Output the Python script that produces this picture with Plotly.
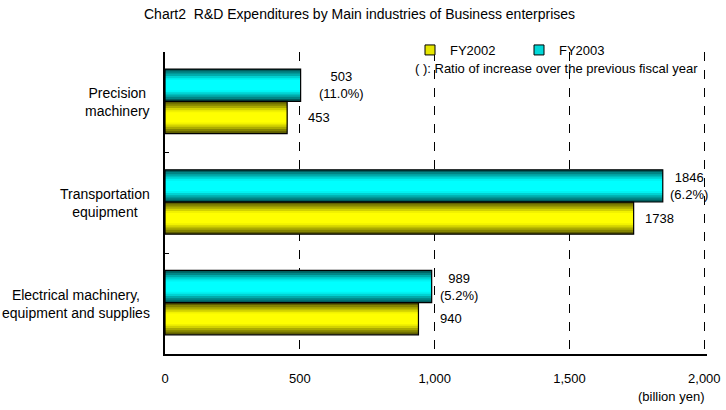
import plotly.graph_objects as go

# ---- data ----
categories = ["Precision<br>machinery", "Transportation<br>equipment",
              "Electrical machinery,<br>equipment and supplies"]
fy2002 = [453, 1738, 940]
fy2003 = [503, 1846, 989]
ratio2003 = ["11.0%", "6.2%", "5.2%"]
x_ticks = [0, 500, 1000, 1500, 2000]
series_names = ["FY2002", "FY2003"]

# ---- style ----
FONT = "Liberation Sans"
pos = list(range(len(categories)))
BAR_W = 0.32
OFF_2003 = -0.33
OFF_2002 = -0.01
X_MAX = 2010
PLOT_W = 542
# gradient layers: (fraction of bar thickness, colour), outer to inner
yellow_layers = [(1.0, "#5e5e00"), (0.86, "#858500"), (0.72, "#abab00"),
                 (0.58, "#d2d200"), (0.44, "#f2f200"), (0.32, "#ffff00")]
cyan_layers = [(1.0, "#005e5e"), (0.86, "#008585"), (0.72, "#00abab"),
               (0.58, "#00d2d2"), (0.44, "#00f2f2"), (0.32, "#00ffff")]
# label nudges in px (manual placement like the original)
shift_2003 = [16, 5, 6]
shift_2002 = [19, 9, 20]

fig = go.Figure()


def add_bar(values, base_off, layers):
    for i, (f, col) in enumerate(layers):
        fig.add_trace(go.Bar(
            x=values, y=pos, orientation="h",
            width=BAR_W * f, offset=base_off + BAR_W * (1 - f) / 2,
            marker=dict(color=col, line=dict(width=0)),
            showlegend=False, hoverinfo="x"))


add_bar(fy2003, OFF_2003, cyan_layers)
add_bar(fy2002, OFF_2002, yellow_layers)

# outer outline on top
for values, off in ((fy2003, OFF_2003), (fy2002, OFF_2002)):
    fig.add_trace(go.Bar(
        x=values, y=pos, orientation="h", width=BAR_W, offset=off,
        marker=dict(color="rgba(0,0,0,0)", line=dict(color="black", width=1.2)),
        showlegend=False, hoverinfo="skip"))

# legend entries
for name, col in zip(series_names, ["#e6e600", "#00d8d8"]):
    fig.add_trace(go.Scatter(
        x=[None], y=[None], mode="markers", name=name,
        marker=dict(symbol="square", size=10, color=col,
                    line=dict(color="black", width=1))))

ann = []
# category labels
for p, c in zip(pos, categories):
    ann.append(dict(x=0, xref="paper", y=p, yref="y", text=c,
                    xanchor="right", yanchor="middle", align="center",
                    xshift=-13, showarrow=False,
                    font=dict(size=14, family=FONT, color="black")))
# value labels
for p, v, r, s in zip(pos, fy2003, ratio2003, shift_2003):
    ann.append(dict(x=v, y=p + OFF_2003 + BAR_W / 2, text=f"{v}<br>({r})",
                    xanchor="left", yanchor="middle", align="center",
                    xshift=s, showarrow=False,
                    font=dict(size=13, family=FONT, color="black")))
for p, v, s in zip(pos, fy2002, shift_2002):
    ann.append(dict(x=v, y=p + OFF_2002 + BAR_W / 2, text=f"{v}",
                    xanchor="left", yanchor="middle", align="left",
                    xshift=s, showarrow=False,
                    font=dict(size=13, family=FONT, color="black")))
# title
ann.append(dict(x=(142 - 165) / PLOT_W, xref="paper", y=1 + (52 - 14) / 302,
                yref="paper", xanchor="left", yanchor="middle",
                text="Chart2  R&D Expenditures by Main industries of Business enterprises",
                showarrow=False, font=dict(size=14, family=FONT, color="black")))
# note
ann.append(dict(x=(413 - 165) / PLOT_W, xref="paper", y=1 - (68 - 52) / 302,
                yref="paper", xanchor="left", yanchor="middle",
                text="( ): Ratio of increase over the previous fiscal year",
                showarrow=False, font=dict(size=13, family=FONT, color="black")))
# unit
ann.append(dict(x=(706 - 165) / PLOT_W, xref="paper", y=-(396 - 354) / 302,
                yref="paper", xanchor="right", yanchor="middle",
                text="(billion yen)", showarrow=False,
                font=dict(size=13, family=FONT, color="black")))

fig.update_layout(
    width=726, height=410,
    margin=dict(l=165, r=726 - 165 - PLOT_W, t=52, b=56, autoexpand=False),
    paper_bgcolor="white", plot_bgcolor="white",
    barmode="overlay",
    annotations=ann,
    font=dict(family=FONT, size=13, color="black"),
    legend=dict(orientation="h", x=(410 - 165) / PLOT_W, xanchor="left",
                y=1 + (52 - 50) / 302, yanchor="middle",
                bgcolor="rgba(0,0,0,0)", font=dict(size=13, family=FONT),
                entrywidth=64, itemclick=False),
    xaxis=dict(range=[0, X_MAX], tickvals=x_ticks, tickformat=",d",
               showgrid=True, gridcolor="black", griddash="dash", gridwidth=1,
               showline=True, linecolor="black", linewidth=1.5,
               zeroline=False, ticks="", ticklabelstandoff=12,
               tickfont=dict(size=13, family=FONT), fixedrange=True),
    yaxis=dict(range=[2.5, -0.5], tickvals=[-0.5, 0.5, 1.5, 2.5],
               showticklabels=False, ticks="inside", ticklen=4,
               tickcolor="black", showgrid=False, zeroline=False,
               showline=True, linecolor="black", linewidth=1.5,
               fixedrange=True),
    showlegend=True,
)

fig.write_html("out.html",
               config={"displayModeBar": False},
               post_script="document.body.style.margin='0';"
                           "document.body.style.padding='0';")
